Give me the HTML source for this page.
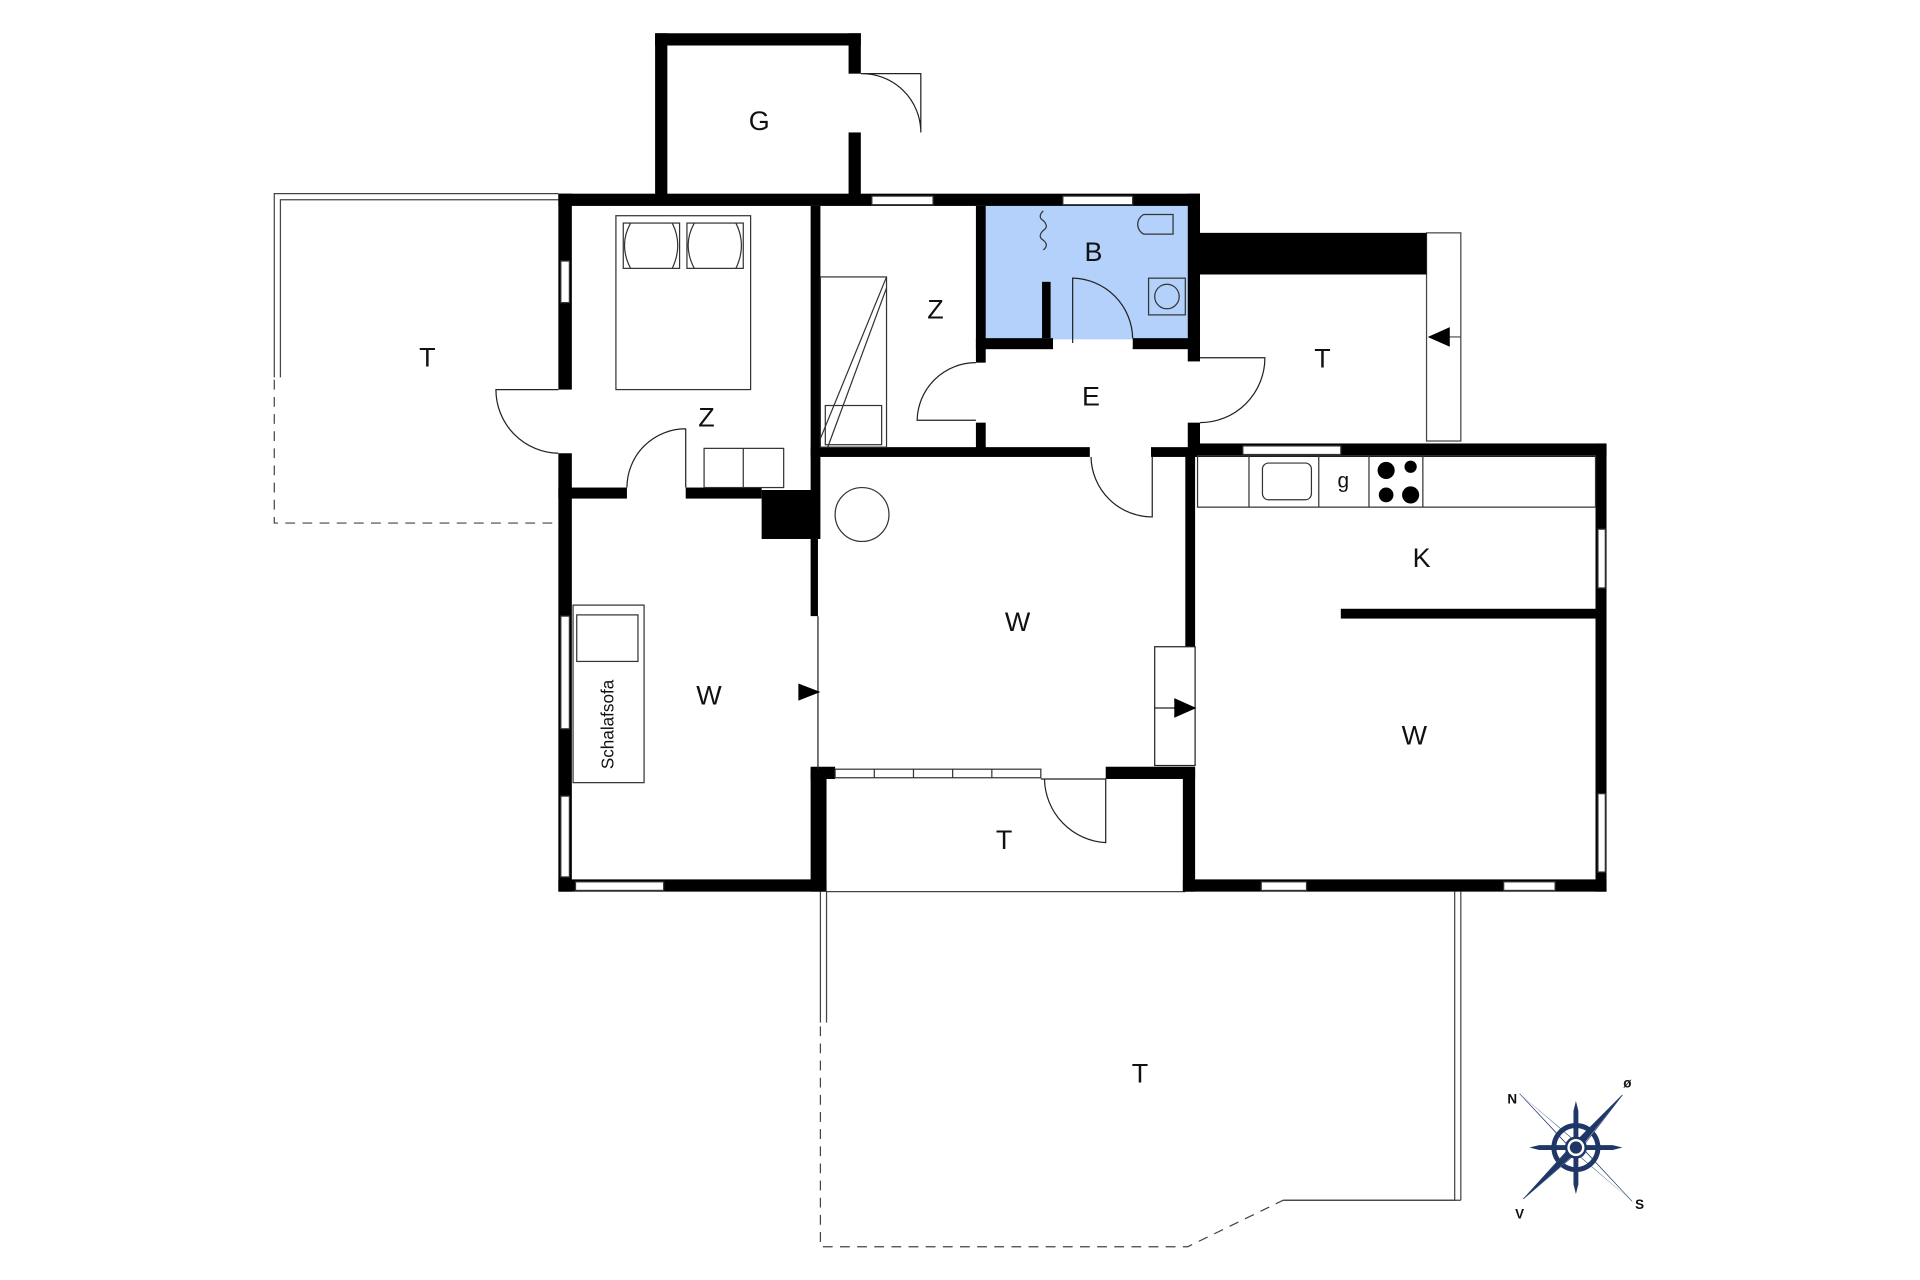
<!DOCTYPE html>
<html><head><meta charset="utf-8"><style>html,body{margin:0;padding:0;background:#fff}svg{display:block}</style></head>
<body>
<svg width="1920" height="1280" viewBox="0 0 1568 1045" xmlns="http://www.w3.org/2000/svg" font-family="Liberation Sans, sans-serif">
<rect width="1568" height="1045" fill="#fff"/>
<rect x="805" y="168" width="165" height="110" fill="#b3d1fb"/>
<g fill="none" stroke="#444" stroke-width="1">
<polyline points="224,308 224,158 456,158"/>
<polyline points="229,308 229,163 456,163"/>
<polyline points="224,310 224,427 456,427" stroke-dasharray="8,6"/>
<polyline points="670,728 670,835"/>
<polyline points="675,728 675,835"/>
<line x1="675" y1="728" x2="968" y2="728"/>
<polyline points="670,838 670,1018 970,1018 1048,980" stroke-dasharray="8,6"/>
<polyline points="1048,980 1188,980 1188,728"/>
<polyline points="1048,980 1193,980"/>
<polyline points="1193,980 1193,728"/>
<rect x="1165" y="190" width="28" height="170"/>
<line x1="1170" y1="275" x2="1193" y2="275"/>
</g>
<g fill="#000">
<rect x="535" y="27" width="168" height="10"/>
<rect x="535" y="27" width="10" height="133"/>
<rect x="693" y="27" width="10" height="33"/>
<rect x="693" y="108" width="10" height="52"/>
<rect x="456" y="158" width="524" height="10"/>
<rect x="456" y="158" width="11" height="160"/>
<rect x="456" y="370" width="11" height="358"/>
<rect x="662" y="168" width="8" height="232"/>
<rect x="622" y="400" width="48" height="40"/>
<rect x="662" y="440" width="6" height="63"/>
<rect x="662" y="628" width="13" height="100"/>
<rect x="456" y="398" width="56" height="9"/>
<rect x="560" y="398" width="62" height="9"/>
<rect x="797" y="168" width="8" height="128"/>
<rect x="797" y="345" width="8" height="22"/>
<rect x="797" y="276" width="63" height="9"/>
<rect x="925" y="276" width="55" height="9"/>
<rect x="851" y="230" width="7" height="46"/>
<rect x="970" y="158" width="10" height="137"/>
<rect x="970" y="345" width="10" height="27"/>
<rect x="980" y="190" width="185" height="34"/>
<rect x="662" y="365" width="228" height="8"/>
<rect x="940" y="365" width="372" height="8"/>
<rect x="968" y="372" width="8" height="156"/>
<rect x="975" y="362" width="337" height="10"/>
<rect x="1303" y="362" width="9" height="366"/>
<rect x="1095" y="497" width="208" height="8"/>
<rect x="456" y="718" width="219" height="10"/>
<rect x="966" y="628" width="10" height="100"/>
<rect x="966" y="718" width="346" height="10"/>
<rect x="662" y="626" width="20" height="10"/>
<rect x="903" y="626" width="73" height="10"/>
</g>
<rect x="860" y="277" width="65" height="7" fill="#fff"/>
<g fill="#fff" stroke="#333" stroke-width="1">
<rect x="712" y="160" width="50" height="7"/>
<rect x="868" y="160" width="57" height="7"/>
<rect x="458" y="213" width="7" height="34"/>
<rect x="1015" y="364" width="80" height="7"/>
<rect x="1305" y="432" width="6" height="48"/>
<rect x="1305" y="648" width="6" height="64"/>
<rect x="1030" y="720" width="37" height="7"/>
<rect x="1228" y="720" width="42" height="7"/>
<rect x="470" y="720" width="72" height="7"/>
<rect x="458" y="503" width="7" height="92"/>
<rect x="458" y="650" width="7" height="66"/>
<rect x="682" y="628" width="168" height="7"/>
<line x1="714" y1="628" x2="714" y2="635"/><line x1="746" y1="628" x2="746" y2="635"/><line x1="778" y1="628" x2="778" y2="635"/><line x1="810" y1="628" x2="810" y2="635"/>
</g>
<g fill="none" stroke="#222" stroke-width="1">
<path d="M703,60 L752,60 L752,108 A48,48 0 0 0 703,60"/>
<path d="M456,318 L405,318 A52,52 0 0 0 456,370"/>
<path d="M560,350 L560,398 M560,350 A48,48 0 0 0 512,398"/>
<path d="M797,296 A48,48 0 0 0 749,343 L797,343"/>
<path d="M876,280 L876,227 A50,50 0 0 1 925,276"/>
<path d="M980,292 L1033,292 A53,53 0 0 1 980,345"/>
<path d="M941,373 L941,422 A50,50 0 0 1 891,373"/>
<path d="M850,636 L903,636 L903,688 A53,53 0 0 1 853,636"/>
<line x1="668" y1="503" x2="668" y2="628"/>
<rect x="943" y="528" width="33" height="97"/>
<line x1="943" y1="578" x2="960" y2="578"/>
</g>
<g fill="#000">
<polygon points="652,558 670,565 652,572"/>
<polygon points="959,570 977,578 959,586"/>
<polygon points="1166,275 1184,267 1184,283"/>
</g>
<g fill="none" stroke="#333" stroke-width="1">
<rect x="503" y="176" width="110" height="142"/>
<rect x="509" y="182" width="46" height="37"/><rect x="561" y="182" width="46" height="37"/>
<path d="M515,182 Q505,200 515,219 M549,182 Q558,200 549,219 M567,182 Q557,200 567,219 M601,182 Q610,200 601,219"/>
<rect x="575" y="366" width="65" height="32"/><line x1="607" y1="366" x2="607" y2="398"/>
<rect x="670" y="226" width="54" height="139"/>
<line x1="670" y1="358" x2="724" y2="226"/><line x1="676" y1="365" x2="724" y2="235"/>
<rect x="674" y="331" width="46" height="32"/>
<ellipse cx="704" cy="420" rx="22" ry="22"/>
<rect x="468" y="494" width="58" height="145"/>
<rect x="471" y="502" width="50" height="38"/>
<rect x="978" y="372" width="325" height="42"/>
<line x1="1020" y1="372" x2="1020" y2="414"/><line x1="1077" y1="372" x2="1077" y2="414"/><line x1="1118" y1="372" x2="1118" y2="414"/><line x1="1162" y1="372" x2="1162" y2="414"/>
<rect x="1031" y="378" width="40" height="30" rx="5"/>
<path d="M934,175 a9,9 0 0 0 0,16 L958,191 L958,175 Z"/>
<rect x="938" y="227" width="30" height="30"/><circle cx="953" cy="242" r="10"/>
<path d="M852,172 q-5,5 0,8 q5,5 0,8 q-5,5 0,8 q5,4 0,8"/>
</g>
<g fill="#000">
<circle cx="1132" cy="384" r="7"/><circle cx="1152" cy="381" r="5"/>
<circle cx="1132" cy="404" r="6"/><circle cx="1152" cy="404" r="7"/>
</g>
<g font-size="22" fill="#111" text-anchor="middle">
<text x="620" y="106">G</text>
<text x="349" y="299">T</text>
<text x="577" y="348">Z</text>
<text x="764" y="260">Z</text>
<text x="893" y="213">B</text>
<text x="891" y="331">E</text>
<text x="1080" y="300">T</text>
<text x="831" y="515">W</text>
<text x="579" y="575">W</text>
<text x="1161" y="463">K</text>
<text x="1155" y="608">W</text>
<text x="820" y="693">T</text>
<text x="931" y="884">T</text>
<text x="1097" y="398" font-size="17">g</text>
</g>
<text transform="translate(501,628) rotate(-90)" font-size="14" fill="#111">Schalafsofa</text>
<g transform="translate(1287,937)">
<circle r="18" fill="none" stroke="#1f3766" stroke-width="4"/>
<polygon points="-2,-30 0,-38 2,-30 2,30 0,38 -2,30" fill="#1f3766"/>
<polygon points="-30,-2 -38,0 -30,2 30,2 38,0 30,-2" fill="#1f3766"/>
<polygon points="-46,-44 0,-5 5,0" fill="#1f3766"/><polygon points="-46,-44 -5,0 0,5" fill="#dde" stroke="#1f3766" stroke-width=".5"/>
<polygon points="46,44 0,5 -5,0" fill="#1f3766"/><polygon points="46,44 5,0 0,-5" fill="#dde" stroke="#1f3766" stroke-width=".5"/>
<polygon points="38,-43 0,-5 5,0" fill="#dde" stroke="#1f3766" stroke-width=".5"/><polygon points="38,-43 -5,0 0,5" fill="#1f3766"/>
<polygon points="-43,42 0,5 -5,0" fill="#dde" stroke="#1f3766" stroke-width=".5"/><polygon points="-43,42 5,0 0,-5" fill="#1f3766"/>
<circle r="8" fill="#fff" stroke="#1f3766" stroke-width="2"/><circle r="5" fill="#1f3766"/>
</g>
<g font-size="11" font-weight="bold" fill="#111" text-anchor="middle">
<text x="1235" y="901">N</text><text x="1329" y="888">ø</text>
<text x="1241" y="995">V</text><text x="1339" y="987">S</text>
</g>
</svg>
</body></html>
